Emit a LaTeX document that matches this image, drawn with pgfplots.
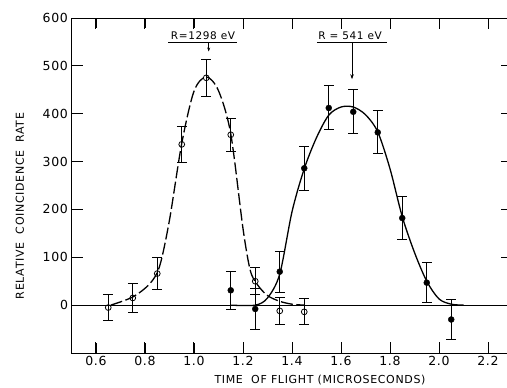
\documentclass[border=0pt]{standalone}
\usepackage{pgfplots}
\pgfplotsset{compat=1.18}
\usepackage{fontspec}
\setmainfont{DejaVu Sans}[LetterSpace=6]
\usetikzlibrary{arrows.meta}

\begin{document}
\begin{tikzpicture}
\path[use as bounding box] (0pt,0pt) rectangle (507pt,388pt);
\begin{axis}[
  at={(71.5pt,35pt)}, anchor=south west,
  scale only axis, width=441pt, height=335pt,
  xmin=0.5, xmax=2.3, ymin=-100, ymax=600,
  xtick={0.6,0.8,1.0,1.2,1.4,1.6,1.8,2.0,2.2},
  xticklabels={0.6,0.8,1.0,1.2,1.4,1.6,1.8,2.0,2.2},
  ytick={0,100,200,300,400,500,600},
  yticklabels={0,100,200,300,400,500,600},
  major tick length=10pt,
  xtick style={draw=black, line width=0.9pt},
  ytick style={draw=black, line width=0.9pt},
  axis line style={line width=0.8pt},
  label style={font=\fontsize{11}{13}\selectfont},
  xticklabel style={font=\fontsize{12.5}{14}\selectfont},
  yticklabel style={font=\fontsize{12.5}{14}\selectfont},
  xlabel={TIME\ \ OF FLIGHT (MICROSECONDS)},
  ylabel={RELATIVE\ \ COINCIDENCE\ \ RATE},
  x label style={at={(axis description cs:0.5635,-0.0806)}, anchor=center},
  y label style={at={(axis description cs:-0.1168,0.439)}, anchor=center},
  clip=false,
]
% tick marks drawn explicitly (inside, all four sides)
\draw[line width=1pt, black]
  (axis cs:0.6,-100) -- (axis cs:0.6,-78)   (axis cs:0.6,600) -- (axis cs:0.6,578)
  (axis cs:0.8,-100) -- (axis cs:0.8,-78)   (axis cs:0.8,600) -- (axis cs:0.8,578)
  (axis cs:1.0,-100) -- (axis cs:1.0,-78)   (axis cs:1.0,600) -- (axis cs:1.0,578)
  (axis cs:1.2,-100) -- (axis cs:1.2,-78)   (axis cs:1.2,600) -- (axis cs:1.2,578)
  (axis cs:1.4,-100) -- (axis cs:1.4,-78)   (axis cs:1.4,600) -- (axis cs:1.4,578)
  (axis cs:1.6,-100) -- (axis cs:1.6,-78)   (axis cs:1.6,600) -- (axis cs:1.6,578)
  (axis cs:1.8,-100) -- (axis cs:1.8,-78)   (axis cs:1.8,600) -- (axis cs:1.8,578)
  (axis cs:2.0,-100) -- (axis cs:2.0,-78)   (axis cs:2.0,600) -- (axis cs:2.0,578)
  (axis cs:2.2,-100) -- (axis cs:2.2,-78)   (axis cs:2.2,600) -- (axis cs:2.2,578)
  (axis cs:0.5,0) -- (axis cs:0.547,0)       (axis cs:2.3,0) -- (axis cs:2.253,0)
  (axis cs:0.5,100) -- (axis cs:0.547,100)   (axis cs:2.3,100) -- (axis cs:2.253,100)
  (axis cs:0.5,200) -- (axis cs:0.547,200)   (axis cs:2.3,200) -- (axis cs:2.253,200)
  (axis cs:0.5,300) -- (axis cs:0.547,300)   (axis cs:2.3,300) -- (axis cs:2.253,300)
  (axis cs:0.5,400) -- (axis cs:0.547,400)   (axis cs:2.3,400) -- (axis cs:2.253,400)
  (axis cs:0.5,500) -- (axis cs:0.547,500)   (axis cs:2.3,500) -- (axis cs:2.253,500);
% baseline
\addplot[black, line width=0.6pt] coordinates {(0.5,0) (2.3,0)};
% dashed fit curve (R = 1298 eV)
\addplot[black, line width=1.3pt, smooth, dash pattern=on 12pt off 3.5pt] coordinates {
(0.66,0) (0.75,17) (0.82,45) (0.86,82) (0.9,178) (0.95,338) (1.0,447) (1.05,477)
(1.1,448) (1.15,358) (1.2,160) (1.23,72) (1.26,42) (1.3,20) (1.35,8) (1.4,2) (1.45,0)};
% solid fit curve (R = 541 eV)
\addplot[black, line width=1.3pt, smooth] coordinates {
(1.15,0) (1.25,0) (1.3,15) (1.35,65) (1.4,195) (1.45,285) (1.5,350) (1.55,397)
(1.6,414) (1.65,414) (1.7,398) (1.75,362) (1.8,285) (1.85,185) (1.9,110) (1.95,50)
(2.0,13) (2.05,2) (2.1,0)};
% open circles
\addplot[black, only marks, mark=o, mark size=2.9pt, mark options={fill=white, line width=0.8pt},
  error bars/.cd, y dir=both, y explicit,
  error bar style={line width=1pt, black},
  error mark options={rotate=90, line width=1pt, mark size=4.8pt, black}]
  coordinates {
(0.65,-5) +- (0,28)
(0.75,15) +- (0,31)
(0.85,66) +- (0,34)
(0.95,336) +- (0,37)
(1.05,475) +- (0,38)
(1.15,356) +- (0,34)
(1.25,50) +- (0,28)
(1.35,-12) +- (0,28)
(1.45,-14) +- (0,27)};
% filled circles
\addplot[black, only marks, mark=*, mark size=3pt, mark options={fill=black},
  error bars/.cd, y dir=both, y explicit,
  error bar style={line width=1pt, black},
  error mark options={rotate=90, line width=1pt, mark size=4.8pt, black}]
  coordinates {
(1.15,31) +- (0,40)
(1.25,-8) +- (0,42)
(1.35,70) +- (0,43)
(1.45,286) +- (0,46)
(1.55,412) +- (0,46)
(1.65,404) +- (0,46)
(1.75,361) +- (0,45)
(1.85,182) +- (0,44)
(1.95,47) +- (0,42)
(2.05,-30) +- (0,42)};
% annotations
\node[font=\fontsize{10.5}{12}\selectfont] at (axis cs:1.037,563) {R=1298 eV};
\draw[line width=0.8pt] (axis cs:0.894,549) -- (axis cs:1.175,549);
\draw[line width=0.7pt, -{Stealth[length=4pt,width=3pt]}] (axis cs:1.06,549) -- (axis cs:1.06,530);
\node[font=\fontsize{10.5}{12}\selectfont] at (axis cs:1.637,563) {R = 541 eV};
\draw[line width=0.8pt] (axis cs:1.502,549) -- (axis cs:1.788,549);
\draw[line width=0.7pt, -{Stealth[length=5pt,width=3.5pt]}] (axis cs:1.645,549) -- (axis cs:1.645,472);
\end{axis}
\end{tikzpicture}
\end{document}
